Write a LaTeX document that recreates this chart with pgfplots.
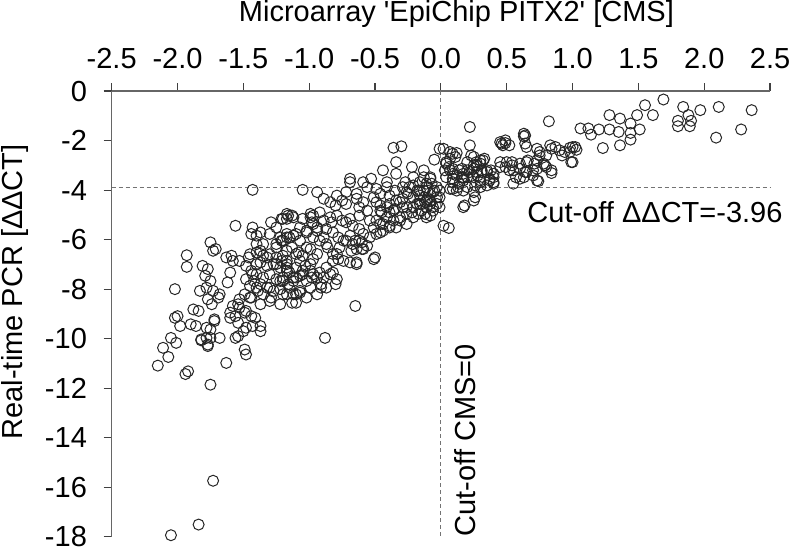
\documentclass[border=0pt]{standalone}
\usepackage{fontspec}
\setmainfont{Liberation Sans}[Ligatures=TeXOff]
\usepackage{pgfplots}
\pgfplotsset{compat=1.18}
\pgfplotstableread{
x y
1.69 -0.34
1.55 -0.57
1.84 -0.64
1.97 -0.77
2.11 -0.64
2.36 -0.77
1.28 -0.97
1.36 -1.11
1.49 -0.97
1.61 -0.97
1.44 -1.31
1.51 -1.55
1.44 -1.69
1.44 -1.96
1.36 -2.19
1.23 -2.30
1.06 -1.51
1.12 -1.51
1.14 -1.76
1.20 -1.55
1.28 -1.55
1.35 -1.65
1.80 -1.20
1.80 -1.42
1.88 -0.97
1.90 -1.20
1.89 -1.42
2.09 -1.88
2.28 -1.55
1.00 -2.26
1.03 -2.37
0.98 -2.29
0.94 -2.46
0.92 -2.60
0.99 -2.87
0.22 -1.45
0.82 -1.22
0.49 -1.99
0.49 -2.10
0.63 -1.72
0.63 -1.83
0.64 -2.12
0.22 -2.19
0.73 -2.33
0.75 -2.46
0.83 -2.19
0.87 -2.26
0.90 -2.39
0.55 -3.74
0.60 -3.54
0.74 -3.64
0.84 -3.31
0.45 -2.87
0.50 -2.87
0.54 -3.00
0.60 -3.14
0.66 -2.80
0.73 -2.80
0.75 -2.60
0.78 -2.93
0.80 -3.07
0.70 -3.20
0.64 -3.27
0.52 -3.20
0.25 -2.66
0.27 -2.87
0.32 -2.80
0.25 -3.14
0.31 -3.20
0.35 -3.27
0.38 -3.20
0.40 -3.48
0.17 -3.48
0.14 -3.74
0.09 -3.54
0.07 -3.20
0.04 -2.93
0.11 -2.66
0.07 -2.46
0.02 -2.33
0.17 -4.69
0.26 -4.29
0.25 -4.42
-0.01 -2.33
-0.05 -2.77
0.07 -2.73
0.09 -2.53
0.12 -2.50
0.04 -2.87
0.03 -3.20
0.06 -3.07
0.45 -2.06
0.47 -2.19
0.64 -1.79
0.65 -2.26
0.54 -2.87
0.60 -2.93
0.65 -2.87
0.55 -3.20
0.65 -3.27
0.71 -2.93
0.73 -3.14
0.79 -3.00
0.84 -3.20
0.80 -2.60
0.84 -2.33
0.98 -2.46
1.02 -2.26
1.00 -2.87
0.73 -3.61
0.70 -3.41
0.63 -3.48
0.57 -3.48
0.49 -3.07
0.45 -3.07
0.09 -3.14
0.14 -3.20
0.12 -3.41
0.17 -3.34
0.22 -3.27
0.25 -3.48
0.28 -3.41
0.31 -3.27
0.35 -3.20
0.37 -3.54
0.40 -3.68
0.30 -3.68
0.26 -3.81
0.20 -3.88
0.09 -3.68
0.07 -3.95
0.12 -4.02
0.17 -3.61
0.27 -3.00
0.23 -2.60
0.30 -2.80
0.33 -2.73
0.20 -2.87
0.46 -2.12
0.52 -2.19
0.16 -3.14
0.20 -3.20
0.25 -3.00
0.30 -2.93
0.27 -3.27
0.40 -3.34
0.37 -3.61
0.30 -3.61
0.20 -3.48
0.16 -3.48
0.09 -3.34
0.04 -3.48
0.09 -3.95
0.13 -3.88
0.17 -4.02
0.25 -4.08
0.30 -3.88
0.35 -3.81
0.40 -3.74
0.02 -5.44
0.06 -5.53
0.18 -4.62
-0.08 -3.54
-0.11 -3.74
-0.13 -4.02
-0.16 -4.22
-0.11 -4.42
-0.06 -4.69
-0.15 -4.83
-0.12 -4.96
-0.08 -5.03
-0.03 -4.56
-0.01 -4.29
-0.05 -4.02
-0.36 -2.29
-0.30 -2.23
-0.34 -2.87
-0.44 -3.20
-0.53 -3.54
-0.69 -3.54
-0.69 -3.68
-0.22 -3.07
-0.21 -3.48
-0.13 -3.48
-0.11 -3.88
-0.34 -3.34
-0.41 -3.68
-1.05 -3.99
-0.94 -4.08
-0.72 -4.08
-0.64 -4.15
-0.56 -3.88
-0.51 -4.29
-0.46 -4.15
-0.39 -4.22
-0.35 -4.02
-0.29 -3.88
-0.49 -3.95
-0.41 -3.88
-0.21 -3.81
-0.27 -3.68
-0.16 -4.02
-0.10 -4.02
-0.08 -4.56
-0.59 -3.68
-0.79 -4.22
-1.12 -5.10
-1.17 -5.16
-1.21 -5.16
-0.99 -5.10
-0.89 -4.35
-0.84 -4.49
-0.80 -4.62
-0.75 -4.42
-0.72 -4.56
-0.64 -4.35
-0.59 -4.49
-0.62 -4.69
-0.56 -4.83
-0.49 -4.49
-0.46 -4.62
-0.41 -4.69
-0.45 -4.90
-0.39 -4.90
-0.35 -4.76
-0.31 -4.49
-0.29 -4.35
-0.25 -4.15
-0.21 -4.29
-0.18 -4.56
-0.16 -4.42
-0.12 -4.49
-0.10 -4.35
-0.26 -4.69
-0.22 -4.90
-0.17 -4.96
-0.31 -5.10
-0.36 -5.23
-0.39 -5.44
-0.44 -5.37
-0.49 -5.23
-0.51 -5.51
-0.46 -5.71
-0.54 -5.91
-0.59 -5.77
-0.62 -5.57
-0.67 -5.44
-0.72 -5.30
-0.69 -5.16
-0.75 -5.23
-0.79 -5.03
-0.84 -5.10
-0.89 -5.23
-0.92 -4.90
-0.97 -5.03
-0.98 -5.30
-0.94 -5.51
-0.87 -5.57
-0.82 -5.71
-0.78 -5.91
-0.74 -6.04
-0.69 -5.84
-0.65 -6.04
-0.60 -6.11
-0.64 -6.38
-0.68 -6.45
-0.59 -6.38
-0.51 -6.79
-0.64 -6.99
-0.69 -6.92
-0.78 -6.79
-0.82 -6.58
-0.86 -6.32
-0.92 -6.04
-0.97 -5.91
-1.02 -5.71
-1.07 -6.04
-1.12 -5.84
-1.17 -5.91
-1.20 -6.04
-1.13 -6.32
-1.08 -6.52
-1.05 -6.65
-0.99 -6.38
-0.97 -6.79
-1.03 -7.06
-1.10 -7.13
-1.17 -6.99
-1.21 -6.86
-1.15 -7.33
-1.20 -7.53
-1.12 -7.67
-1.07 -7.46
-1.02 -7.67
-0.98 -7.53
-0.92 -7.33
-0.87 -7.13
-0.82 -7.33
-0.79 -7.60
-0.80 -7.80
-0.87 -7.94
-0.91 -7.94
-0.99 -7.94
-1.07 -8.14
-1.12 -8.21
-1.13 -8.55
-0.65 -8.68
-0.62 -5.03
-0.54 -5.23
-0.83 -5.30
-0.13 -3.20
-0.08 -3.48
-0.07 -3.74
-0.03 -3.88
-0.01 -4.02
-0.06 -4.08
-0.16 -3.68
-0.18 -4.02
-0.26 -4.08
-0.24 -3.88
-0.13 -4.29
-0.08 -4.42
-0.03 -4.29
-0.01 -4.69
-0.06 -4.83
-0.11 -4.69
-0.16 -4.56
-0.21 -4.69
-0.11 -5.10
-0.21 -5.10
-0.26 -4.96
-0.29 -4.69
-0.34 -4.42
-0.36 -4.83
-0.31 -5.23
-0.26 -5.37
-0.34 -5.51
-0.39 -5.51
-0.44 -5.64
-0.49 -5.77
-0.46 -5.37
-0.41 -5.10
-0.39 -4.56
-0.46 -4.83
-0.50 -6.72
-0.64 -6.92
-0.60 -6.38
-0.56 -6.25
-0.62 -6.04
-0.67 -6.18
-0.72 -6.04
-0.77 -6.32
-0.79 -6.58
-0.82 -6.86
-0.74 -6.86
-0.84 -7.40
-0.89 -7.53
-0.94 -7.53
-0.99 -7.26
-1.05 -7.40
-1.10 -7.53
-1.15 -7.94
-1.10 -8.21
-1.20 -8.21
-1.22 -7.67
-1.43 -3.99
-1.56 -5.44
-1.43 -5.51
-1.44 -5.77
-1.40 -5.84
-1.37 -5.71
-1.29 -5.30
-1.20 -5.16
-1.16 -5.03
-1.30 -5.77
-1.22 -5.91
-1.17 -5.77
-1.25 -5.51
-1.75 -6.11
-1.71 -6.38
-1.73 -6.45
-1.93 -6.63
-1.93 -7.10
-1.81 -7.06
-1.77 -7.19
-1.79 -7.46
-1.75 -7.67
-1.78 -7.94
-1.73 -8.07
-1.68 -8.21
-1.69 -8.34
-1.77 -8.41
-1.74 -8.61
-1.83 -8.07
-1.84 -8.88
-1.88 -8.82
-1.90 -9.42
-1.86 -9.49
-1.78 -9.56
-1.72 -9.29
-1.78 -9.97
-1.82 -10.03
-1.77 -10.24
-2.00 -9.09
-2.02 -9.16
-1.98 -9.49
-2.05 -9.97
-2.01 -10.17
-2.11 -10.37
-2.02 -8.00
-1.60 -7.33
-1.58 -6.86
-1.53 -6.86
-1.46 -6.72
-1.48 -7.06
-1.44 -7.26
-1.48 -7.60
-1.45 -7.87
-1.49 -8.21
-1.53 -8.41
-1.58 -8.68
-1.60 -9.16
-1.56 -9.09
-1.53 -8.75
-1.49 -8.95
-1.44 -9.09
-1.41 -9.16
-1.43 -9.49
-1.37 -9.49
-1.48 -9.56
-1.56 -9.97
-1.54 -9.90
-1.50 -9.70
-1.49 -10.44
-1.68 -9.97
-1.72 -9.22
-1.75 -9.63
-1.45 -6.59
-1.40 -6.52
-1.35 -6.65
-1.30 -6.59
-1.25 -6.72
-1.20 -6.65
-1.17 -6.86
-1.37 -6.92
-1.32 -7.06
-1.27 -6.99
-1.22 -7.13
-1.17 -7.26
-1.40 -7.40
-1.35 -7.53
-1.30 -7.40
-1.25 -7.60
-1.16 -7.80
-1.37 -7.80
-1.32 -7.94
-1.27 -8.07
-1.22 -8.00
-1.17 -8.21
-1.35 -8.21
-1.29 -8.34
-1.25 -6.18
-1.35 -6.18
-1.40 -6.18
-1.42 -7.67
-1.39 -8.07
-1.44 -8.34
-1.63 -6.72
-1.59 -6.65
-1.62 -7.73
-1.48 -8.88
-1.54 -9.36
-1.60 -8.95
-1.54 -8.61
-1.13 -5.03
-1.17 -4.96
-1.21 -6.04
-1.15 -5.91
-1.10 -5.77
-1.07 -5.51
-1.02 -5.64
-0.97 -5.37
-1.05 -5.16
-0.99 -4.96
-0.94 -5.64
-0.89 -5.91
-0.87 -6.18
-1.25 -6.32
-1.17 -6.45
-1.10 -6.58
-1.02 -6.32
-0.94 -6.58
-1.07 -6.86
-0.99 -6.99
-1.17 -7.13
-1.25 -6.99
-1.32 -6.72
-1.37 -6.45
-1.40 -6.99
-1.43 -7.40
-1.20 -7.67
-1.12 -7.53
-1.05 -7.26
-0.97 -7.40
-0.91 -7.80
-1.07 -8.07
-1.30 -7.94
-1.40 -7.94
-1.45 -8.34
-1.37 -8.61
-1.30 -8.48
-1.22 -8.61
-1.10 -8.55
-1.02 -8.34
-0.94 -8.21
-0.88 -9.97
-2.15 -11.09
-2.07 -10.74
-1.94 -11.43
-1.92 -11.32
-1.82 -10.07
-1.77 -10.30
-1.75 -9.97
-1.75 -11.86
-1.63 -10.98
-1.48 -10.64
-1.37 -9.70
-1.73 -15.74
-1.84 -17.51
-2.05 -17.94
}\pts
\begin{document}
\begin{tikzpicture}[font=\fontsize{14.5}{17}\selectfont]
\begin{axis}[
  scale only axis, width=329.2pt, height=222.8pt,
  xmin=-2.5, xmax=2.5, ymin=-18, ymax=0,
  axis x line*=top, axis y line*=left,
  axis line style={black!60, line width=0.6pt, -},
  xtick={-2.5,-2,-1.5,-1,-0.5,0,0.5,1,1.5,2,2.5},
  ytick={-18,-16,-14,-12,-10,-8,-6,-4,-2,0},
  tick align=outside, major tick length=4pt,
  tick style={black!75, line width=0.6pt},
  /pgf/number format/assume math mode=true,
  xticklabel style={/pgf/number format/.cd, fixed, fixed zerofill, precision=1, /tikz/.cd, anchor=south, inner sep=0pt},
  yticklabel style={anchor=east, inner sep=0pt},
  xticklabel shift=7pt, yticklabel shift=8.2pt,
  clip=false,
]
\addplot[only marks, mark=o, mark size=2.75pt, black!85, mark options={line width=0.5pt}] table[x=x, y=y] {\pts};
\draw[black!55, line width=0.5pt, dash pattern=on 2pt off 1.5pt] (axis cs:-2.5,-3.9) -- (axis cs:2.5,-3.9);
\draw[black!55, line width=0.5pt, dash pattern=on 2pt off 1.5pt] (axis cs:0,0) -- (axis cs:0,-18);
\node[anchor=base east, inner sep=0pt] at (axis cs:2.597,-5.30) {Cut-off ΔΔCT=-3.96};
\node[rotate=90, anchor=base west, inner sep=0pt] at ([xshift=17.5pt]axis cs:0,-18) {Cut-off CMS=0};
\node[anchor=base, inner sep=0pt] at ([yshift=35pt]axis cs:0.118,0) {Microarray 'EpiChip PITX2' [CMS]};
\node[rotate=90, anchor=base, inner sep=0pt] at ([xshift=-44.8pt]axis cs:-2.5,-8.11) {Real-time PCR [ΔΔCT]};
\end{axis}
\pgfresetboundingbox
\useasboundingbox (-55.85pt,-7pt) rectangle (339.65pt,268.35pt);
\end{tikzpicture}
\end{document}
